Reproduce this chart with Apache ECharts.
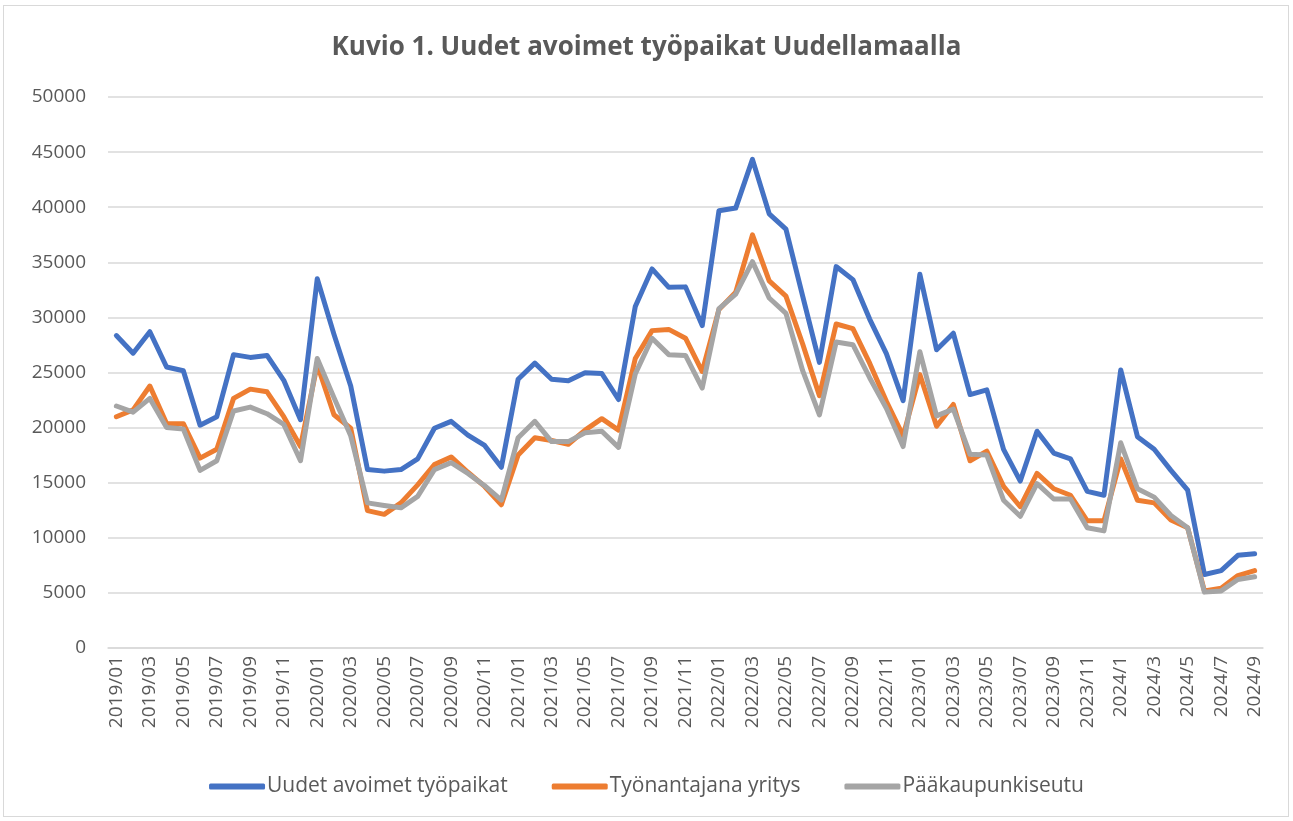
<!DOCTYPE html>
<html>
<head>
<meta charset="utf-8">
<script src="https://cdn.jsdelivr.net/npm/echarts@6/dist/echarts.min.js"></script>
<style>
  html, body { margin: 0; padding: 0; background: #fff; }
  #frame {
    position: absolute; left: 3px; top: 5px; width: 1286px; height: 812px;
    border: 1px solid #d9d9d9; box-sizing: border-box;
  }
  #chart { position: absolute; left: 0; top: 0; width: 1293px; height: 821px; }
</style>
</head>
<body>
<div id="frame"></div>
<div id="chart"></div>
<script>
// kuukaudet
const months = [
  "2019/01","2019/02","2019/03","2019/04","2019/05","2019/06","2019/07","2019/08","2019/09","2019/10","2019/11","2019/12",
  "2020/01","2020/02","2020/03","2020/04","2020/05","2020/06","2020/07","2020/08","2020/09","2020/10","2020/11","2020/12",
  "2021/01","2021/02","2021/03","2021/04","2021/05","2021/06","2021/07","2021/08","2021/09","2021/10","2021/11","2021/12",
  "2022/01","2022/02","2022/03","2022/04","2022/05","2022/06","2022/07","2022/08","2022/09","2022/10","2022/11","2022/12",
  "2023/01","2023/02","2023/03","2023/04","2023/05","2023/06","2023/07","2023/08","2023/09","2023/10","2023/11","2023/12",
  "2024/1","2024/2","2024/3","2024/4","2024/5","2024/6","2024/7","2024/8","2024/9"
];

// Uudet avoimet työpaikat
const uudet = [
  28350, 26750, 28700, 25500, 25160, 20220, 20990, 26620, 26370, 26550, 24290, 20710,
  33500, 28460, 23770, 16190, 16050, 16190, 17160, 19940, 20570, 19320, 18380, 16400,
  24390, 25850, 24390, 24250, 24980, 24910, 22550, 30990, 34400, 32730, 32770, 29260,
  39680, 39920, 44340, 39400, 38010, 31930, 25920, 34610, 33430, 29850, 26720, 22450,
  33910, 27070, 28560, 23000, 23420, 18030, 15150, 19670, 17690, 17160, 14210, 13860,
  25230, 19180, 18030, 16120, 14320, 6670, 7020, 8410, 8550
];

// Työnantajana yritys
const yritys = [
  20990, 21610, 23770, 20360, 20360, 17230, 18030, 22650, 23490, 23250, 20990, 18280,
  25700, 21160, 19940, 12470, 12130, 13170, 14800, 16640, 17340, 15950, 14660, 13000,
  17510, 19080, 18830, 18490, 19770, 20810, 19770, 26270, 28800, 28910, 28110, 25090,
  30720, 32280, 37490, 33320, 31930, 27590, 22900, 29400, 28980, 25850, 22380, 19250,
  24810, 20120, 22100, 16990, 17860, 14660, 12820, 15840, 14450, 13860, 11540, 11540,
  17160, 13410, 13170, 11610, 10910, 5180, 5420, 6570, 7020
];

// Pääkaupunkiseutu
const pks = [
  21960, 21400, 22650, 20010, 19870, 16120, 16990, 21510, 21860, 21260, 20290, 16990,
  26270, 22720, 19250, 13170, 12930, 12720, 13760, 16190, 16820, 15840, 14730, 13410,
  19080, 20570, 18730, 18730, 19530, 19670, 18210, 24880, 28110, 26620, 26550, 23590,
  30790, 32110, 35060, 31760, 30370, 25160, 21160, 27760, 27520, 24530, 21750, 18280,
  26890, 21060, 21680, 17580, 17510, 13410, 11950, 14910, 13520, 13520, 10910, 10630,
  18620, 14450, 13690, 12020, 10910, 5070, 5180, 6220, 6460
];

const seriesNames = ["Uudet avoimet työpaikat", "Työnantajana yritys", "Pääkaupunkiseutu"];
const colors = ["#4472C4", "#ED7D31", "#A5A5A5"];

const font = "'Open Sans', 'Liberation Sans', sans-serif";
const chart = echarts.init(document.getElementById("chart"));

const makeLine = (name, data, color) => ({
  name: name,
  type: "line",
  data: data,
  symbol: "none",
  smooth: false,
  lineStyle: { width: 5, color: color, join: "round", cap: "round" },
  itemStyle: { color: color },
});

chart.setOption({
  animation: false,
  backgroundColor: "transparent",
  title: {
    text: "Kuvio 1. Uudet avoimet työpaikat Uudellamaalla",
    left: "center",
    top: 30,
    textStyle: { fontFamily: font, fontSize: 26, fontWeight: "bold", color: "#595959" },
  },
  legend: {
    top: 771,
    left: "center",
    itemWidth: 56,
    itemHeight: 6,
    itemGap: 44,
    icon: "roundRect",
    data: seriesNames,
    textStyle: { fontFamily: font, fontSize: 21, color: "#595959", padding: [0, 0, 0, -3] },
  },
  grid: { left: 108, right: 30, top: 97, bottom: 173, containLabel: false },
  xAxis: {
    type: "category",
    data: months,
    boundaryGap: true,
    axisLine: { show: true, lineStyle: { color: "#d9d9d9", width: 1.5 } },
    axisTick: { show: false },
    axisLabel: {
      rotate: 90,
      interval: 1,
      margin: 8,
      fontFamily: font,
      fontSize: 19,
      color: "#595959",
    },
  },
  yAxis: {
    type: "value",
    min: 0,
    max: 50000,
    interval: 5000,
    axisLine: { show: false },
    axisTick: { show: false },
    splitLine: { lineStyle: { color: "#d9d9d9", width: 1.5 } },
    axisLabel: {
      margin: 22,
      fontFamily: font,
      fontSize: 19,
      color: "#595959",
      formatter: (v) => String(v),
    },
  },
  series: [
    makeLine(seriesNames[0], uudet, colors[0]),
    makeLine(seriesNames[1], yritys, colors[1]),
    makeLine(seriesNames[2], pks, colors[2]),
  ],
});
</script>
</body>
</html>
